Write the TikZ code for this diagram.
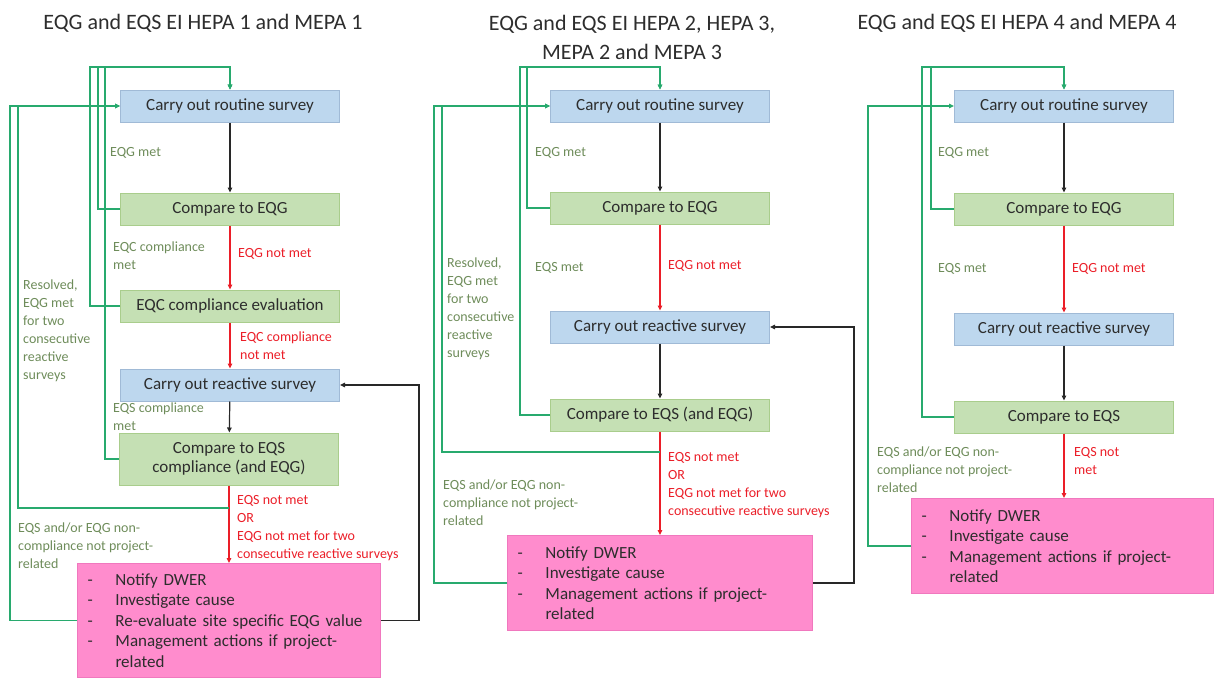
\documentclass[tikz,border=0pt]{standalone}
\usepackage{fontspec}
\setmainfont{Carlito}
\usetikzlibrary{arrows.meta}
\definecolor{bluefill}{RGB}{189,215,238}
\definecolor{blueedge}{RGB}{160,186,214}
\definecolor{greenfill}{RGB}{197,224,180}
\definecolor{greenedge}{RGB}{169,205,140}
\definecolor{pinkfill}{RGB}{255,140,205}
\definecolor{pinkedge}{RGB}{240,120,190}
\definecolor{loopgreen}{RGB}{40,170,110}
\definecolor{lblgreen}{RGB}{110,140,90}
\definecolor{lblred}{RGB}{235,30,40}
\definecolor{flowblack}{RGB}{40,40,40}
\definecolor{titlegrey}{RGB}{45,45,45}

\begin{document}
\begin{tikzpicture}[x=1pt,y=-1pt]
    \tikzset{
        stage/.style={draw=#1edge, fill=#1fill, line width=1pt, minimum width=219pt,
            minimum height=32pt, inner sep=2pt, align=center, text=titlegrey,
            font=\fontsize{17}{19}\selectfont},
        actbox/.style={draw=pinkedge, fill=pinkfill, line width=1pt, anchor=north west,
            text width=#1, align=left, inner xsep=10pt, text=titlegrey,
            font=\fontsize{17}{20.5}\selectfont},
        lbl/.style={anchor=north west, align=left, inner sep=0pt, text=lblgreen,
            font=\fontsize{14}{18}\selectfont},
        rlbl/.style={lbl, text=lblred},
        flow/.style={-{Triangle[length=5pt,width=4.5pt]}, line width=1.2pt, draw=flowblack},
        fail/.style={flow, draw=lblred},
        back/.style={flow, draw=loopgreen},
        ttl/.style={align=center, text=titlegrey, font=\fontsize{22}{29}\selectfont},
    }
    \def\bul{\makebox[28pt][l]{-}}
    \useasboundingbox (0,0) rectangle (1214,677);

    % titles
    \node[ttl] (t1) at (203,23) {EQG and EQS EI HEPA 1 and MEPA 1};
    \node[ttl] (t2) at (632,37) {EQG and EQS EI HEPA 2, HEPA 3,\\MEPA 2 and MEPA 3};
    \node[ttl] (t3) at (1017,23) {EQG and EQS EI HEPA 4 and MEPA 4};

    % HEPA 1 / MEPA 1
    \node[stage=blue] (rout1) at (230,106) {Carry out routine survey};
    \node[stage=green] (ceqg1) at (230,209) {Compare to EQG};
    \node[stage=green] (eqc1) at (230,306) {EQC compliance evaluation};
    \node[stage=blue] (rea1) at (230,385) {Carry out reactive survey};
    \node[stage=green, minimum height=52pt] (ceqs1) at (229,459) {Compare to EQS\\compliance (and EQG)};
    \node[actbox=283pt, minimum height=114pt] (act1) at (77,563)
        {\bul Notify DWER\\\bul Investigate cause\\\bul Re-evaluate site specific EQG value\\
         \bul Management actions if project-\\\hspace*{28pt}related};

    \draw[flow] (rout1) -- (ceqg1);
    \draw[fail] (ceqg1) -- (eqc1);
    \draw[fail] (eqc1) -- (rea1);
    \draw[flow] (rea1) -- (ceqs1);
    \draw[fail] (ceqs1.south) -- (ceqs1.south |- act1.north);
    \draw[flow] (act1.east) -- ++(38,0) |- (rea1.east);
    \draw[back] (eqc1.west) -| (90,67) -| (rout1.north);
    \draw[back] (ceqg1.west) -| (98,67) -| (rout1.north);
    \draw[back] (ceqs1.west) -| (105,67) -| (rout1.north);
    \coordinate (res1) at (ceqs1.south |- 0,508);
    \draw[back] (res1) -| (18,106) -- (rout1.west);
    \draw[back] (act1.west) -| (10,106) -- (rout1.west);

    \node[lbl] at (110,147) {EQG met};
    \node[lbl] at (113,242) {EQC compliance\\met};
    \node[rlbl] at (238,248) {EQG not met};
    \node[rlbl] at (240,332) {EQC compliance\\not met};
    \node[lbl] at (23,280) {Resolved,\\EQG met\\for two\\consecutive\\reactive\\surveys};
    \node[lbl] at (113,403) {EQS compliance\\met};
    \node[rlbl] at (237,495) {EQS not met\\OR\\EQG not met for two\\consecutive reactive surveys};
    \node[lbl] at (18,523) {EQS and/or EQG non-\\compliance not project-\\related};

    % HEPA 2, HEPA 3, MEPA 2, MEPA 3
    \node[stage=blue] (rout2) at (660,106) {Carry out routine survey};
    \node[stage=green] (ceqg2) at (660,208) {Compare to EQG};
    \node[stage=blue] (rea2) at (660,327) {Carry out reactive survey};
    \node[stage=green] (ceqs2) at (660,415) {Compare to EQS (and EQG)};
    \node[actbox=285pt, minimum height=95pt] (act2) at (507,535)
        {\bul Notify DWER\\\bul Investigate cause\\
         \bul Management actions if project-\\\hspace*{28pt}related};

    \draw[flow] (rout2) -- (ceqg2);
    \draw[fail] (ceqg2) -- (rea2);
    \draw[flow] (rea2) -- (ceqs2);
    \draw[fail] (ceqs2.south) -- (ceqs2.south |- act2.north);
    \draw[flow] (act2.east) -- ++(41,0) |- (rea2.east);
    \draw[back] (ceqs2.west) -| (520,67) -| (rout2.north);
    \draw[back] (ceqg2.west) -| (527,67) -| (rout2.north);
    \coordinate (res2) at (ceqs2.south |- 0,452);
    \draw[back] (res2) -| (442,106) -- (rout2.west);
    \draw[back] (act2.west) -| (434,106) -- (rout2.west);

    \node[lbl] at (535,147) {EQG met};
    \node[lbl] at (447,258) {Resolved,\\EQG met\\for two\\consecutive\\reactive\\surveys};
    \node[lbl] at (535,262) {EQS met};
    \node[rlbl] at (668,260) {EQG not met};
    \node[rlbl] at (668,452) {EQS not met\\OR\\EQG not met for two\\consecutive reactive surveys};
    \node[lbl] at (443,480) {EQS and/or EQG non-\\compliance not project-\\related};

    % HEPA 4 / MEPA 4
    \node[stage=blue] (rout3) at (1064,106) {Carry out routine survey};
    \node[stage=green] (ceqg3) at (1064,209) {Compare to EQG};
    \node[stage=blue] (rea3) at (1064,329) {Carry out reactive survey};
    \node[stage=green] (ceqs3) at (1064,417) {Compare to EQS};
    \node[actbox=282pt, minimum height=95pt] (act3) at (911,498)
        {\bul Notify DWER\\\bul Investigate cause\\
         \bul Management actions if project-\\\hspace*{28pt}related};

    \draw[flow] (rout3) -- (ceqg3);
    \draw[fail] (ceqg3) -- (rea3);
    \draw[flow] (rea3) -- (ceqs3);
    \draw[fail] (ceqs3.south) -- (ceqs3.south |- act3.north);
    \draw[back] (ceqs3.west) -| (922,67) -| (rout3.north);
    \draw[back] (ceqg3.west) -| (931,67) -| (rout3.north);
    \draw[back] (act3.west) -| (868,106) -- (rout3.west);

    \node[lbl] at (938,147) {EQG met};
    \node[lbl] at (938,263) {EQS met};
    \node[rlbl] at (1072,263) {EQG not met};
    \node[rlbl] at (1074,447) {EQS not\\met};
    \node[lbl] at (877,447) {EQS and/or EQG non-\\compliance not project-\\related};
\end{tikzpicture}
\end{document}
